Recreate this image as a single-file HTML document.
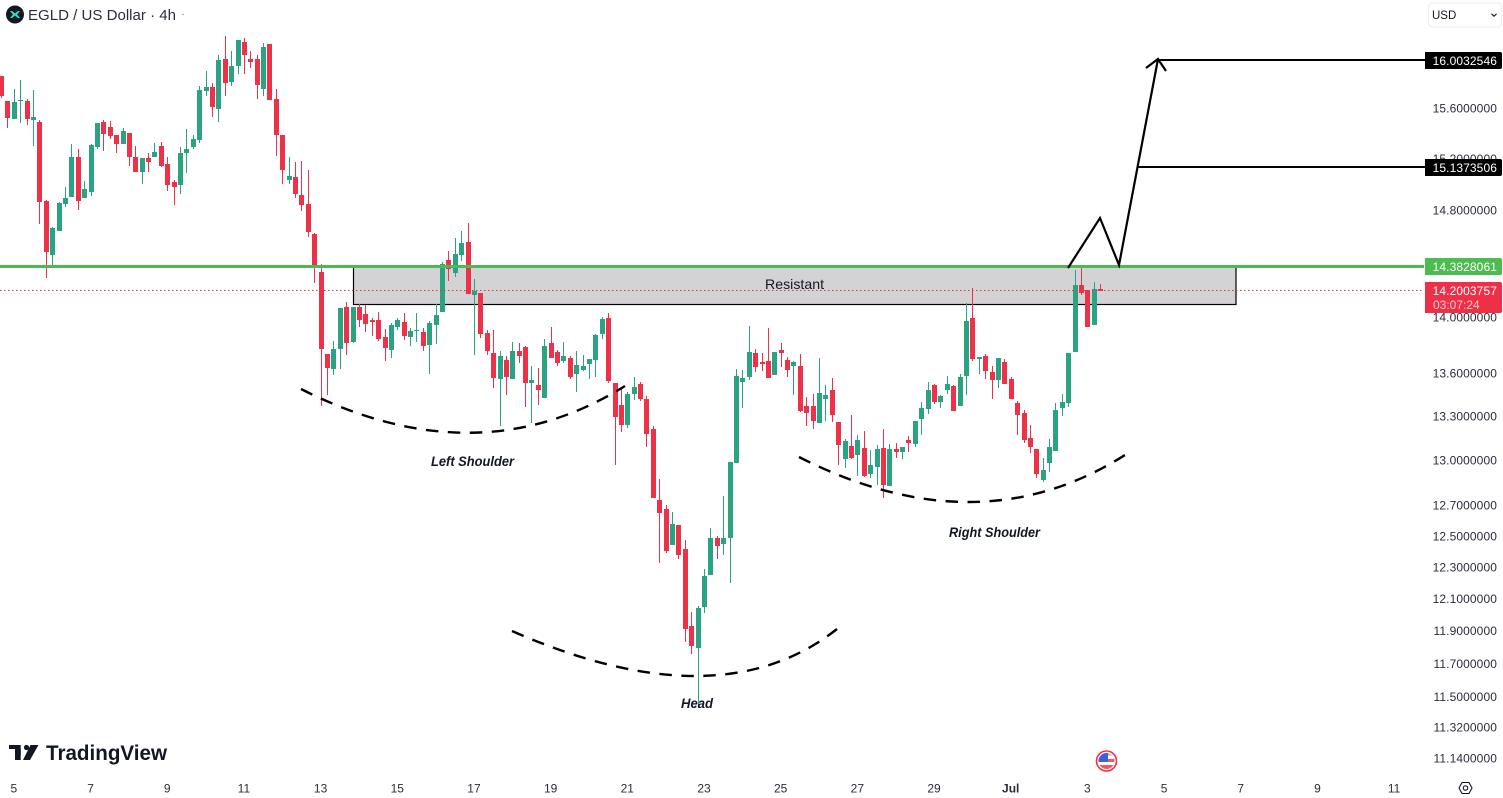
<!DOCTYPE html>
<html lang="en">
<head>
<meta charset="utf-8">
<title>EGLD / US Dollar 4h</title>
<style>
html,body{margin:0;padding:0;background:#fff;width:1503px;height:798px;overflow:hidden}
svg{display:block;font-family:"Liberation Sans",sans-serif}
</style>
</head>
<body>
<svg id="chart" width="1503" height="798" viewBox="0 0 1503 798" xmlns="http://www.w3.org/2000/svg">
  <rect x="353.5" y="266" width="882.5" height="38.5" fill="#d3d3d5" stroke="#000" stroke-width="1.2"/>
  <g id="candles"></g>
  <line x1="0" y1="290.5" x2="1424" y2="290.5" stroke="#ee3047" stroke-width="1" stroke-dasharray="1.5 2.5"/>
  <line x1="0" y1="266.5" x2="1424" y2="266.5" stroke="#4cba50" stroke-width="3"/>
  <text x="794.5" y="289" font-size="14" text-anchor="middle" textLength="59" lengthAdjust="spacingAndGlyphs" fill="#131722">Resistant</text>

  <path d="M301 389 Q477 478 625 386" fill="none" stroke="#000" stroke-width="2.4" stroke-dasharray="12.5 9.5"/>
  <path d="M512 631 Q719 722 837 629" fill="none" stroke="#000" stroke-width="2.4" stroke-dasharray="12.5 9.5"/>
  <path d="M799 457 Q978 548 1125 455" fill="none" stroke="#000" stroke-width="2.4" stroke-dasharray="12.5 9.5"/>
  <text x="431" y="466" font-size="14" font-weight="700" font-style="italic" textLength="83" lengthAdjust="spacingAndGlyphs" fill="#131722">Left Shoulder</text>
  <text x="949" y="537" font-size="14" font-weight="700" font-style="italic" textLength="91" lengthAdjust="spacingAndGlyphs" fill="#131722">Right Shoulder</text>
  <text x="681" y="708" font-size="14" font-weight="700" font-style="italic" textLength="32" lengthAdjust="spacingAndGlyphs" fill="#131722">Head</text>

  <path d="M1068 268 L1100 218 L1119 265 L1158 59" fill="none" stroke="#000" stroke-width="2.2"/>
  <path d="M1146 68 L1158 59 L1166 71" fill="none" stroke="#000" stroke-width="2.2"/>
  <line x1="1158" y1="60" x2="1425" y2="60" stroke="#000" stroke-width="2"/>
  <line x1="1138" y1="167" x2="1425" y2="167" stroke="#000" stroke-width="2"/>

  <g id="price-axis"></g>
  <g id="time-axis"></g>

  <g>
    <path d="M1425 52 H1500 a2 2 0 0 1 2 2 V67 a2 2 0 0 1 -2 2 H1425 Z" fill="#000"/>
    <text x="1497" y="65" font-size="12" letter-spacing="0.1" text-anchor="end" fill="#fff">16.0032546</text>
  </g>
  <g>
    <path d="M1425 159 H1500 a2 2 0 0 1 2 2 V174 a2 2 0 0 1 -2 2 H1425 Z" fill="#000"/>
    <text x="1497" y="172" font-size="12" letter-spacing="0.1" text-anchor="end" fill="#fff">15.1373506</text>
  </g>
  <g>
    <path d="M1425 258 H1500 a2 2 0 0 1 2 2 V273 a2 2 0 0 1 -2 2 H1425 Z" fill="#4cbb50"/>
    <text x="1497" y="271" font-size="12" letter-spacing="0.1" text-anchor="end" fill="#fff">14.3828061</text>
  </g>
  <g>
    <path d="M1425 282 H1500 a2 2 0 0 1 2 2 V311 a2 2 0 0 1 -2 2 H1425 Z" fill="#ee3047"/>
    <text x="1497" y="295" font-size="12" letter-spacing="0.1" text-anchor="end" fill="#fff">14.2003757</text>
    <text x="1433" y="309" font-size="12" fill="#fcc9cf">03:07:24</text>
  </g>

  <g>
    <rect x="1428.5" y="3" width="73" height="24" rx="4" fill="#fff" stroke="#ececec"/>
    <text x="1432" y="19" font-size="11.5" fill="#131722">USD</text>
    <path d="M1491.5 13.8 L1494 16.2 L1496.5 13.8" fill="none" stroke="#131722" stroke-width="1.1"/>
  </g>

  <g>
    <circle cx="15" cy="14.5" r="9" fill="#141920"/>
    <path d="M10 11 L12 11 L15 13.5 L18 11 L20 11 L17 14.5 L20 18 L18 18 L15 15.5 L12 18 L10 18 L13 14.5 Z" fill="#2ee6d0"/>
    <text x="28" y="20" font-size="15" textLength="148" lengthAdjust="spacingAndGlyphs" fill="#2a2e39">EGLD / US Dollar · 4h</text>
    <circle cx="183" cy="14.5" r="0.8" fill="#9598a1"/>
  </g>

  <g>
    <path d="M9 745 H20.7 V756 H15 V749 H9 Z" fill="#131722"/>
    <path d="M15 749 H20.7 V760 H15 Z" fill="#131722"/>
    <circle cx="26.5" cy="747.5" r="2.6" fill="#131722"/>
    <path d="M30.5 745 H38.5 L30 760 H23 Z" fill="#131722"/>
    <text x="46" y="760" font-size="21" font-weight="700" textLength="121" lengthAdjust="spacingAndGlyphs" fill="#131722">TradingView</text>
  </g>

  <g>
    <circle cx="1106.5" cy="761" r="10" fill="#fff" stroke="#ee3047" stroke-width="1.6"/>
    <clipPath id="flagClip"><circle cx="1106.5" cy="761" r="8"/></clipPath>
    <g clip-path="url(#flagClip)">
      <rect x="1098" y="753" width="17" height="16" fill="#fff"/>
      <rect x="1098" y="759" width="17" height="3" fill="#ee5a5a"/>
      <rect x="1098" y="765" width="17" height="4" fill="#ee5a5a"/>
      <rect x="1098" y="753" width="17" height="2.5" fill="#ee9a9a"/>
      <rect x="1098" y="753" width="10" height="9" fill="#3f5fd8"/>
    </g>
  </g>

  <g fill="none" stroke="#131722" stroke-width="1.1">
    <path d="M1459 788 L1462 782.5 H1469 L1472 788 L1469 793.5 H1462 Z"/>
    <circle cx="1465.5" cy="788" r="2.2"/>
  </g>
</svg>

<script>
// (US dollars per EGLD, one entry per 4h bar)
const opens = [
15.871,15.666,15.521,15.666,15.666,15.513,15.497,14.875,14.464,14.647,
14.852,14.906,15.218,14.898,14.945,15.298,15.497,15.457,15.394,15.322,
15.409,15.218,15.101,15.210,15.218,15.306,15.163,15.023,15.000,15.250,
15.298,15.354,15.748,15.781,15.601,16.010,15.822,15.953,16.153,16.010,
16.010,15.765,16.136,15.683,15.394,15.039,15.062,14.922,14.852,14.624,
14.338,13.741,13.635,13.777,14.080,13.827,14.080,14.029,13.986,13.986,
13.863,13.770,13.935,13.971,13.863,13.907,13.899,13.806,13.950,14.043,
14.427,14.331,14.464,14.563,14.168,14.183,13.892,13.748,13.565,13.698,
13.565,13.763,13.791,13.537,13.523,13.432,13.820,13.755,13.691,13.712,
13.600,13.628,13.670,13.698,13.885,14.000,13.537,13.383,13.246,13.460,
13.530,13.425,13.218,12.740,12.680,12.447,12.576,12.421,11.935,11.800,
12.053,12.255,12.492,12.453,12.492,12.986,13.544,13.579,13.748,13.684,
13.691,13.593,13.770,13.698,13.656,13.656,13.376,13.376,13.259,13.425,
13.488,13.266,13.013,13.102,13.040,13.088,12.913,12.960,13.088,12.833,
13.081,13.061,13.143,13.116,13.287,13.355,13.523,13.404,13.488,13.516,
13.376,13.586,14.000,13.705,13.727,13.614,13.558,13.684,13.565,13.397,
13.328,13.157,13.081,12.873,12.986,13.068,13.362,13.397,13.755,14.242,
14.205,13.950,14.213];
const highs = [
15.871,15.666,15.765,15.838,15.683,15.756,15.513,14.883,14.677,14.868,
14.984,15.322,15.282,15.031,15.322,15.489,15.513,15.505,15.394,15.449,
15.409,15.306,15.210,15.250,15.330,15.338,15.218,15.039,15.298,15.441,
15.394,15.789,15.912,15.814,16.044,16.203,16.077,16.170,16.186,16.077,
16.044,16.144,16.136,15.765,15.394,15.218,15.179,15.186,15.116,14.632,
14.397,13.741,13.835,14.073,14.117,14.080,14.102,14.095,14.000,14.043,
13.921,13.964,14.000,14.036,13.928,14.036,13.928,13.979,14.102,14.412,
14.495,14.593,14.647,14.707,14.286,14.183,13.914,13.914,13.763,13.727,
13.827,13.820,13.799,13.656,13.642,13.849,13.935,13.770,13.827,13.727,
13.763,13.734,13.705,13.885,14.007,14.036,13.537,13.502,13.474,13.579,
13.544,13.446,13.239,12.880,12.707,12.661,12.576,12.479,12.022,12.059,
12.293,12.557,12.505,12.767,12.993,13.635,13.628,13.943,13.777,13.748,
13.928,13.755,13.820,13.719,13.691,13.741,13.439,13.460,13.712,13.523,
13.572,13.266,13.150,13.314,13.177,13.205,13.075,13.109,13.218,13.116,
13.122,13.095,13.170,13.273,13.404,13.544,13.530,13.453,13.586,13.523,
13.600,14.109,14.220,13.719,13.741,13.656,13.712,13.705,13.579,13.411,
13.348,13.246,13.081,13.020,13.150,13.397,13.460,13.748,14.353,14.382,
14.205,14.264,14.249];
const lows = [
15.691,15.449,15.521,15.489,15.473,15.306,14.699,14.294,14.375,14.647,
14.829,14.906,14.805,14.898,14.914,15.282,15.266,15.362,15.250,15.322,
15.148,15.101,15.008,15.101,15.218,15.140,14.953,14.844,14.930,15.093,
15.282,15.330,15.707,15.537,15.497,15.707,15.789,15.887,15.887,15.936,
15.683,15.707,15.675,15.226,15.008,15.008,14.898,14.798,14.602,14.257,
13.376,13.453,13.593,13.635,13.734,13.820,13.935,13.899,13.871,13.835,
13.691,13.712,13.914,13.842,13.799,13.827,13.763,13.600,13.813,14.043,
14.272,14.301,14.419,14.176,13.734,13.856,13.734,13.502,13.239,13.453,
13.565,13.677,13.369,13.259,13.383,13.432,13.712,13.656,13.677,13.565,
13.474,13.621,13.565,13.579,13.849,13.537,12.973,13.198,13.225,13.418,
13.411,13.095,12.753,12.331,12.395,12.447,12.356,11.837,11.763,11.438,
12.015,12.255,12.356,12.382,12.204,12.986,13.362,13.558,13.614,13.621,
13.572,13.593,13.649,13.579,13.453,13.334,13.239,13.218,13.259,13.273,
13.266,12.973,12.953,13.013,12.900,12.893,12.886,12.840,12.753,12.833,
13.020,13.013,13.061,13.095,13.177,13.321,13.390,13.362,13.460,13.341,
13.376,13.453,13.691,13.600,13.565,13.425,13.502,13.530,13.425,13.177,
13.122,13.054,12.886,12.860,12.926,13.068,13.307,13.369,13.755,14.168,
13.935,13.950,14.198];
const closes = [
15.707,15.529,15.658,15.675,15.521,15.537,14.868,14.488,14.669,14.860,
14.898,15.218,14.875,14.969,15.314,15.489,15.401,15.386,15.322,15.425,
15.218,15.101,15.210,15.179,15.258,15.148,15.000,14.984,15.250,15.282,
15.362,15.756,15.781,15.617,16.002,15.814,15.953,16.170,16.044,15.985,
15.797,16.111,15.675,15.394,15.116,15.070,14.930,14.844,14.639,14.368,
13.777,13.642,13.777,14.073,13.820,14.080,13.986,13.957,13.971,13.849,
13.784,13.950,13.986,13.871,13.907,13.914,13.799,13.964,14.022,14.397,
14.360,14.472,14.556,14.176,14.198,13.885,13.763,13.572,13.727,13.579,
13.763,13.727,13.537,13.558,13.488,13.799,13.712,13.677,13.727,13.579,
13.663,13.656,13.705,13.878,13.993,13.551,13.300,13.246,13.460,13.509,
13.425,13.184,12.753,12.654,12.408,12.583,12.382,11.917,11.812,12.046,
12.249,12.492,12.440,12.492,12.993,13.586,13.572,13.755,13.649,13.670,
13.572,13.755,13.748,13.628,13.684,13.341,13.328,13.273,13.467,13.453,
13.314,13.109,13.136,13.020,13.143,12.900,12.973,13.081,12.840,13.081,
13.061,13.095,13.122,13.273,13.362,13.488,13.404,13.446,13.530,13.341,
13.579,13.979,13.705,13.719,13.621,13.558,13.712,13.530,13.425,13.314,
13.143,13.095,12.913,12.940,13.095,13.348,13.404,13.748,14.242,14.183,
13.935,14.213,14.2003];
const priceTicks = [15.6,15.2,14.8,14.0,13.6,13.3,13.0,12.7,12.5,12.3,12.1,11.9,11.7,11.5,11.32,11.14];
const timeTickLabels = ['5','7','9','11','13','15','17','19','21','23','25','27','29','Jul','3','5','7','9','11'];
const barsPerTick = 12;
const firstTickBar = 2;

const UP = '#29a382', DOWN = '#ed3148';
const SVGNS = 'http://www.w3.org/2000/svg';

function xScale(bar){ return 1.1 + 6.39 * bar; }
function yScale(price){ return 759 - 1930 * Math.log(price / 11.14); }
function mk(tag, attrs){
  const el = document.createElementNS(SVGNS, tag);
  for (const k in attrs) el.setAttribute(k, attrs[k]);
  return el;
}

const candleLayer = document.getElementById('candles');
opens.forEach(function(open, i){
  const close = closes[i];
  const color = close >= open ? UP : DOWN;
  const cx = Math.round(xScale(i));
  const top = Math.round(yScale(Math.max(open, close)));
  const bottom = Math.max(top + 1, Math.round(yScale(Math.min(open, close))));
  const g = mk('g', {fill: color, 'shape-rendering': 'crispEdges'});
  
  
  const hi = Math.round(yScale(highs[i]));
  const lo = Math.round(yScale(lows[i]));
  const wick = mk('rect', {x: cx, y: hi, width: 1, height: Math.max(1, lo - hi)});
  
  
  const body = mk('rect', {x: cx - 2, y: top, width: 5, height: bottom - top});
  
  
  g.appendChild(wick);
  g.appendChild(body);
  candleLayer.appendChild(g);
});

const priceAxis = document.getElementById('price-axis');
priceTicks.forEach(function(p){
  const t = mk('text', {x: 1497, y: yScale(p) + 3.6, 'font-size': 12, 'letter-spacing': 0.1, 'text-anchor': 'end', fill: '#2a2e39'});
  
  
  t.textContent = p.toFixed(7);
  priceAxis.appendChild(t);
});

const timeAxis = document.getElementById('time-axis');
timeTickLabels.forEach(function(label, i){
  const bar = firstTickBar + i * barsPerTick;
  const attrs = {x: xScale(bar), y: 792.5, 'font-size': 12, 'text-anchor': 'middle', fill: '#2a2e39'};
  if (label === 'Jul') attrs['font-weight'] = 700;
  const t = mk('text', attrs);
  
  
  t.textContent = label;
  timeAxis.appendChild(t);
});
</script>
</body>
</html>
